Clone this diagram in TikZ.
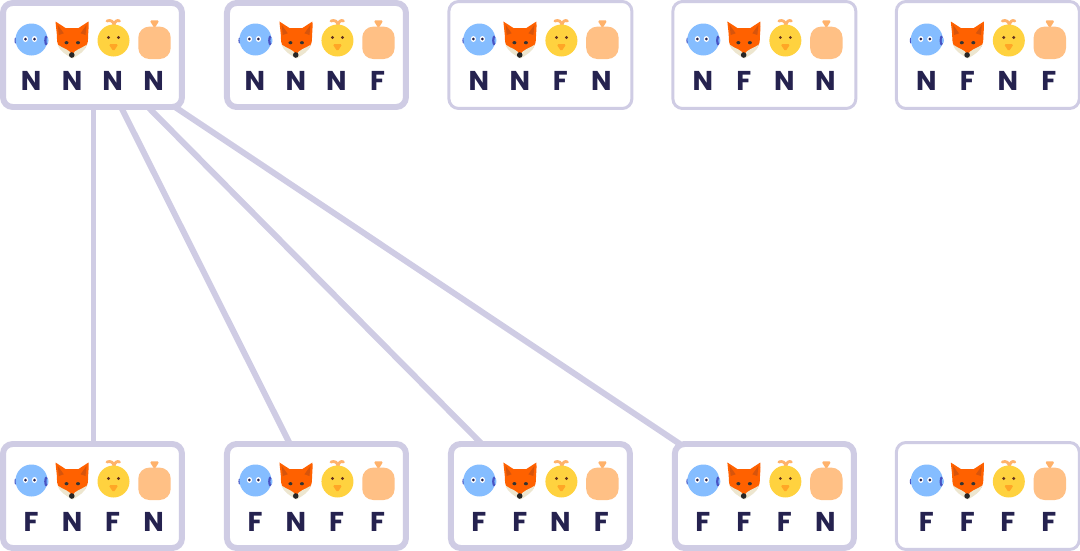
\documentclass[tikz,border=0pt]{standalone}
\usepackage{fontspec}
\setmainfont{Poppins}
\usetikzlibrary{positioning}
\definecolor{lilac}{RGB}{207, 204, 228}
\definecolor{ink}{RGB}{37, 34, 79}
\definecolor{skyblue}{RGB}{133, 189, 255}
\definecolor{earblue}{RGB}{72, 84, 196}
\definecolor{foxorange}{RGB}{255, 97, 0}
\definecolor{foxdark}{RGB}{214, 84, 12}
\definecolor{foxcream}{RGB}{237, 230, 207}
\definecolor{chickyellow}{RGB}{255, 210, 63}
\definecolor{chickeye}{RGB}{100, 50, 30}
\definecolor{tuft}{RGB}{255, 178, 107}
\definecolor{beak}{RGB}{255, 166, 38}
\definecolor{sack}{RGB}{255, 192, 133}
\tikzset{
    pics/fish/.style={code={
        \fill[earblue] (-16,1) ellipse[x radius=1, y radius=3];
        \fill[earblue] (14,1) ellipse[x radius=2.5, y radius=5];
        \fill[skyblue] (0,0) circle[radius=16];
        \fill[earblue] (14.5,1) ellipse[x radius=1.8, y radius=5];
        \fill[skyblue] (16,1) ellipse[x radius=1, y radius=3];
        \fill[white] (-6,-0.5) ellipse[x radius=2.6, y radius=3];
        \fill[white] (3,-0.5) ellipse[x radius=2.6, y radius=3];
        \fill[ink] (-6,-0.5) circle[radius=1.5];
        \fill[ink] (3,-0.5) circle[radius=1.5];
    }},
    pics/fox/.style={code={
        \fill[foxorange] (-17,-17.5) -- (-7,-11) -- (6,-11) -- (16,-17.5) .. controls (16.5,-11) and (15.5,-6) .. (15.5,0) .. controls (15.5,8) and (10,13) .. (0,18) .. controls (-10,13) and (-15.5,8) .. (-15.5,0) .. controls (-15.5,-6) and (-16.5,-11) .. (-17,-17.5) -- cycle;
        \fill[foxdark] (-14.7,-14) -- (-8.7,-5.7) -- (-13.7,-4) -- cycle;
        \fill[foxdark] (14,-14) -- (8,-5.7) -- (13,-4) -- cycle;
        \fill[foxcream] (-15,5.5) .. controls (-9,10) and (-3,10) .. (-0.5,16) .. controls (3,10) and (8,10) .. (14.5,5.5) .. controls (13,12) and (6,16) .. (0,19.5) .. controls (-6,16) and (-13,12) .. (-15,5.5) -- cycle;
        \fill[black!80] (-6,3.7) ellipse[x radius=2, y radius=1.6];
        \fill[black!80] (5.5,3.7) ellipse[x radius=2, y radius=1.6];
        \fill[black!85] (-0.7,16) circle[radius=2.8];
    }},
    pics/chick/.style={code={
        \draw[tuft, line width=1.6pt, line cap=round] (0.5,-15) .. controls (0.5,-19) and (-3,-21) .. (-6.5,-19.5);
        \draw[tuft, line width=1.6pt, line cap=round] (0.5,-15) .. controls (1,-19) and (3.5,-21) .. (6,-19.5);
        \fill[chickyellow] (0,0) circle[radius=16];
        \fill[chickeye] (-5,-3) circle[radius=1.6];
        \fill[chickeye] (5,-3) circle[radius=1.6];
        \fill[beak, rounded corners=1pt] (-5,3.5) -- (5,3.5) -- (0,11) -- cycle;
    }},
    pics/sack/.style={code={
        \fill[tuft, rounded corners=1pt] (-5,-22.5) -- (5,-22.5) -- (0,-14.5) -- cycle;
        \fill[sack, rounded corners=6.3pt] (-16.2,-16.2) rectangle (16.2,16.2);
    }},
    pics/crew/.style n args={4}{code={
        \pic at (-61,-15.5) {fish};
        \pic at (-20,-16) {fox};
        \pic at (21,-14.5) {chick};
        \pic at (62,-12.2) {sack};
        \node[tag] (a) at (-61.5,26) {#1};
        \node[tag] (b) at (-20.5,26) {#2};
        \node[tag] (c) at (20,26) {#3};
        \node[tag] (d) at (61,26) {#4};
    }},
}
\begin{document}
\begin{tikzpicture}[
            x=0.02cm, y=-0.02cm,
            card/.style={draw=lilac, fill=white, line width=1.7pt, rounded corners=5.5pt, outer sep=0pt, minimum width=3.66cm, minimum height=2.14cm},
            cardbold/.style={draw=lilac, fill=white, line width=3.4pt, rounded corners=5.5pt, outer sep=0pt, minimum width=3.58cm, minimum height=2.08cm},
            link/.style={draw=lilac, line width=3.4pt},
            tag/.style={text=ink, font=\fontsize{15.5}{16}\selectfont\bfseries, inner sep=0pt}
        ]
            \useasboundingbox (0,0) rectangle (1080,551);

            \node[cardbold] (nnnn) at (92.5,55) {};
            \node[cardbold, right=0.90cm of nnnn] (nnnf) {};
            \node[card, right=0.86cm of nnnf] (nnfn) {};
            \node[card, right=0.82cm of nnfn] (nfnn) {};
            \node[card, right=0.81cm of nfnn] (nfnf) {};

            \node[cardbold] (fnfn) at (92.5,496) {};
            \node[cardbold, right=0.90cm of fnfn] (fnff) {};
            \node[cardbold, right=0.90cm of fnff] (ffnf) {};
            \node[cardbold, right=0.90cm of ffnf] (fffn) {};
            \node[card, right=0.85cm of fffn] (ffff) {};

            \draw[link] ([xshift=0.02cm]nnnn.south) -- ([xshift=0.02cm]fnfn.north);
            \draw[link] ([xshift=0.57cm]nnnn.south) -- ([xshift=-0.53cm]fnff.north);
            \draw[link] ([xshift=1.11cm]nnnn.south) -- ([xshift=-1.17cm]ffnf.north);
            \draw[link] ([xshift=1.65cm]nnnn.south) -- ([xshift=-1.69cm]fffn.north);

            \pic (nnnn-) at (nnnn) {crew={N}{N}{N}{N}};
            \pic (nnnf-) at (nnnf) {crew={N}{N}{N}{F}};
            \pic (nnfn-) at (nnfn) {crew={N}{N}{F}{N}};
            \pic (nfnn-) at (nfnn) {crew={N}{F}{N}{N}};
            \pic (nfnf-) at (nfnf) {crew={N}{F}{N}{F}};
            \pic (fnfn-) at (fnfn) {crew={F}{N}{F}{N}};
            \pic (fnff-) at (fnff) {crew={F}{N}{F}{F}};
            \pic (ffnf-) at (ffnf) {crew={F}{F}{N}{F}};
            \pic (fffn-) at (fffn) {crew={F}{F}{F}{N}};
            \pic (ffff-) at (ffff) {crew={F}{F}{F}{F}};
        \end{tikzpicture}
\end{document}
